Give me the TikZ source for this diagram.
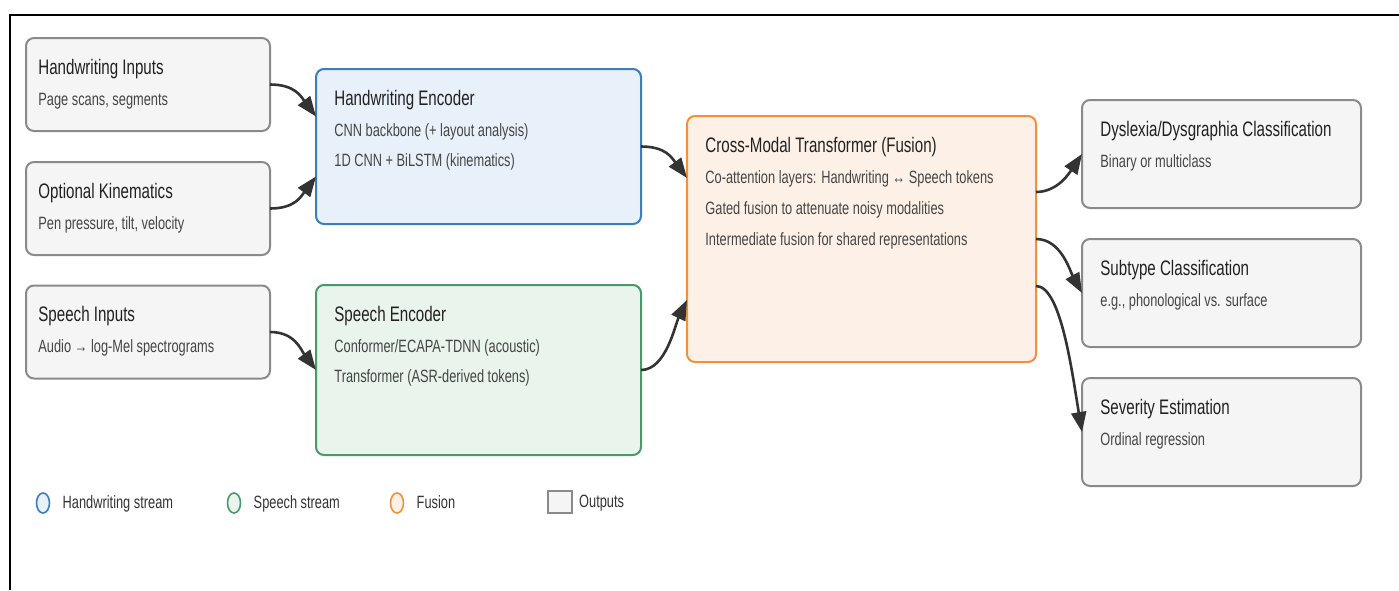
\documentclass[tikz,border=0pt]{standalone}
\usepackage{fontspec}
\setmainfont{Liberation Sans}[FakeStretch=0.72]
\usetikzlibrary{arrows.meta,positioning,shapes.geometric}

\definecolor{hwline}{HTML}{3B7DBE}
\definecolor{hwfill}{HTML}{E8F1F9}
\definecolor{spline}{HTML}{4A9A68}
\definecolor{spfill}{HTML}{E8F4EC}
\definecolor{fuline}{HTML}{F0923A}
\definecolor{fufill}{HTML}{FDF1E7}
\definecolor{grline}{HTML}{8A8A8A}
\definecolor{grfill}{HTML}{F5F5F5}
\definecolor{arrowc}{HTML}{333333}

\begin{document}
\begin{tikzpicture}[x=0.5pt,y=-0.5pt,
    block/.style={draw,rounded corners=4pt,line width=1pt,inner sep=0pt,outer sep=0pt},
    inbox/.style={block,draw=grline,fill=grfill,minimum width=122pt,minimum height=46.5pt},
    outbox/.style={block,draw=grline,fill=grfill,minimum width=139.5pt,minimum height=54pt},
    hwbox/.style={block,draw=hwline,fill=hwfill,minimum width=162.5pt,minimum height=77.5pt},
    spbox/.style={block,draw=spline,fill=spfill,minimum width=162.5pt,minimum height=85pt},
    fubox/.style={block,draw=fuline,fill=fufill,minimum width=174.5pt,minimum height=123pt},
    boxtitle/.style={anchor=base west,inner sep=0pt,text=black!87,font=\fontsize{10.5}{12}\selectfont},
    boxtext/.style={anchor=base west,inner sep=0pt,text=black!73,font=\fontsize{8.9}{10}\selectfont},
    link/.style={draw=arrowc,line width=1.3pt,-{Triangle[length=10pt,width=7.5pt]}},
    legdot/.style={ellipse,line width=0.8pt,minimum width=6.5pt,minimum height=10pt,inner sep=0pt},
    legtext/.style={inner sep=0pt,text height=7pt,text depth=2pt,text=black!80,font=\fontsize{8.9}{10}\selectfont}]
  \useasboundingbox (0,0) rectangle (1399,590);
  \draw[line width=1pt] (10,590) -- (10,15) -- (1399,15);
  \path
    (148,84.5)   node[inbox]  (hi) {}
    (148,208.5)  node[inbox]  (kin) {}
    (148,332)    node[inbox]  (si) {}
    (478.5,146.5) node[hwbox] (he) {}
    (478.5,370)  node[spbox]  (se) {}
    (861.5,239)  node[fubox]  (fu) {}
    (1221.5,154) node[outbox] (dys) {}
    (1221.5,293) node[outbox] (sub) {}
    (1221.5,432) node[outbox] (sev) {};
  \node[boxtitle] (hit) at ([shift={(12,36)}]hi.north west) {Handwriting Inputs};
  \node[boxtext]  (hib) at ([shift={(12,67)}]hi.north west) {Page scans, segments};
  \node[boxtitle] (kint) at ([shift={(12,36)}]kin.north west) {Optional Kinematics};
  \node[boxtext]  (kinb) at ([shift={(12,67)}]kin.north west) {Pen pressure, tilt, velocity};
  \node[boxtitle] (sit) at ([shift={(12,36)}]si.north west) {Speech Inputs};
  \node[boxtext]  (sib) at ([shift={(12,67)}]si.north west) {Audio → log-Mel spectrograms};
  \node[boxtitle] (het) at ([shift={(18,36)}]he.north west) {Handwriting Encoder};
  \node[boxtext]  (heb1) at ([shift={(18,67)}]he.north west) {CNN backbone (+ layout analysis)};
  \node[boxtext]  (heb2) at ([shift={(18,97)}]he.north west) {1D CNN + BiLSTM (kinematics)};
  \node[boxtitle] (set) at ([shift={(18,36)}]se.north west) {Speech Encoder};
  \node[boxtext]  (seb1) at ([shift={(18,67)}]se.north west) {Conformer/ECAPA-TDNN (acoustic)};
  \node[boxtext]  (seb2) at ([shift={(18,97)}]se.north west) {Transformer (ASR-derived tokens)};
  \node[boxtitle] (fut) at ([shift={(18,36)}]fu.north west) {Cross-Modal Transformer (Fusion)};
  \node[boxtext]  (fub1) at ([shift={(18,67)}]fu.north west) {Co-attention layers: Handwriting ↔ Speech tokens};
  \node[boxtext]  (fub2) at ([shift={(18,98)}]fu.north west) {Gated fusion to attenuate noisy modalities};
  \node[boxtext]  (fub3) at ([shift={(18,129)}]fu.north west) {Intermediate fusion for shared representations};
  \node[boxtitle] (dyst) at ([shift={(18,36)}]dys.north west) {Dyslexia/Dysgraphia Classification};
  \node[boxtext]  (dysb) at ([shift={(18,67)}]dys.north west) {Binary or multiclass};
  \node[boxtitle] (subt) at ([shift={(18,36)}]sub.north west) {Subtype Classification};
  \node[boxtext]  (subb) at ([shift={(18,67)}]sub.north west) {e.g., phonological vs. surface};
  \node[boxtitle] (sevt) at ([shift={(18,36)}]sev.north west) {Severity Estimation};
  \node[boxtext]  (sevb) at ([shift={(18,67)}]sev.north west) {Ordinal regression};
  \draw[link] (hi.east)  .. controls +(25,0) and +(-15,-20) .. ([yshift=15pt]he.west);
  \draw[link] (kin.east) .. controls +(25,0) and +(-15,20)  .. ([yshift=-15pt]he.west);
  \draw[link] (si.east)  .. controls +(25,0) and +(-15,-20) .. (se.west);
  \draw[link] (he.east)  .. controls +(25,0) and +(-15,-20) .. ([yshift=30.5pt]fu.west);
  \draw[link] (se.east)  .. controls +(25,0) and +(-12,25)  .. ([yshift=-30.5pt]fu.west);
  \draw[link] ([yshift=23.5pt]fu.east)  .. controls +(22,0) and +(-12,18)  .. (dys.west);
  \draw[link] (fu.east)                 .. controls +(25,0) and +(-12,-22) .. (sub.west);
  \draw[link] ([yshift=-23.5pt]fu.east) .. controls +(25,0) and +(-10,-60) .. (sev.west);
  \node[legdot,draw=hwline,fill=hwfill] (lhw) at (43,503) {};
  \node[legtext,right=6pt of lhw] (lhwt) {Handwriting stream};
  \node[legdot,draw=spline,fill=spfill] (lsp) at (234,503) {};
  \node[legtext,right=6pt of lsp] (lspt) {Speech stream};
  \node[legdot,draw=fuline,fill=fufill] (lfu) at (397,503) {};
  \node[legtext,right=6pt of lfu] (lfut) {Fusion};
  \node[draw=grline,fill=grfill,line width=0.8pt,minimum width=12pt,minimum height=11pt,inner sep=0pt] (lout) at (560,502) {};
  \node[legtext,right=3pt of lout] (loutt) {Outputs};
\end{tikzpicture}
\end{document}
